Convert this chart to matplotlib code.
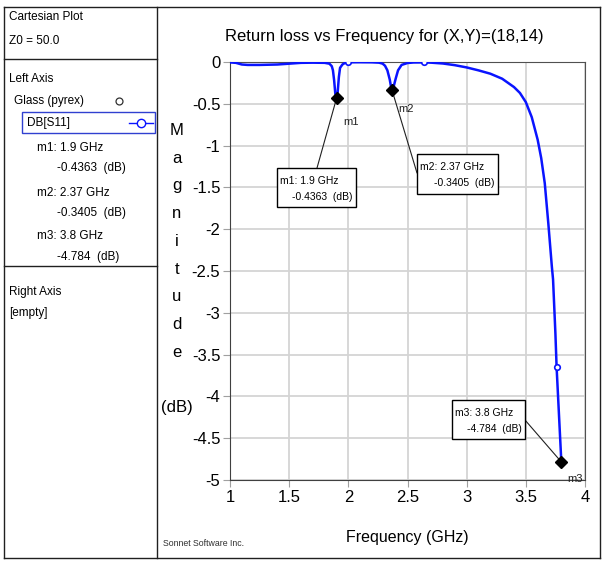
import matplotlib.pyplot as plt
from matplotlib.patches import Rectangle
from matplotlib.lines import Line2D

plt.rcParams['font.family'] = ['Liberation Sans Narrow', 'Liberation Sans', 'DejaVu Sans']

# S11 (dB) vs frequency
freq = [1.0, 1.05, 1.1, 1.15, 1.25, 1.4, 1.5, 1.6, 1.7, 1.8, 1.84, 1.86, 1.87, 1.88,
        1.89, 1.9, 1.91, 1.92, 1.93, 1.95, 1.97, 2.0, 2.1, 2.2, 2.26, 2.29, 2.31, 2.33,
        2.35, 2.36, 2.37, 2.38, 2.4, 2.42, 2.45, 2.5, 2.55, 2.64, 2.7, 2.8, 2.9, 3.0,
        3.1, 3.2, 3.3, 3.4, 3.45, 3.5, 3.55, 3.6, 3.63, 3.66, 3.69, 3.72, 3.73, 3.75,
        3.76, 3.8]
s11 = [-0.005, -0.01, -0.03, -0.035, -0.035, -0.03, -0.02, -0.01, -0.008, -0.01, -0.02,
       -0.05, -0.1, -0.22, -0.38, -0.4363, -0.36, -0.18, -0.07, -0.03, -0.012, -0.004,
       -0.003, -0.004, -0.008, -0.02, -0.045, -0.1, -0.21, -0.29, -0.3405, -0.31, -0.2,
       -0.1, -0.035, -0.012, -0.006, -0.005, -0.008, -0.018, -0.038, -0.065, -0.1, -0.14,
       -0.2, -0.3, -0.37, -0.48, -0.66, -0.93, -1.15, -1.45, -1.93, -2.45, -2.6, -3.25,
       -3.65, -4.784]

# sampled points drawn with open circles
samp_f = [2.0, 2.64, 3.76]
samp_db = [-0.003, -0.005, -3.65]

# markers
mk_names = ['m1', 'm2', 'm3']
mk_f = [1.9, 2.37, 3.8]
mk_db = [-0.4363, -0.3405, -4.784]
mk_f_txt = ['1.9', '2.37', '3.8']
mk_db_txt = ['-0.4363', '-0.3405', '-4.784']

W, H = 602, 561


def px(x, y):
    # pixel from top-left -> figure fraction
    return x / W, 1 - y / H


fig = plt.figure(figsize=(W / 100, H / 100), dpi=100)
x0, y1 = px(230, 62)
x1, y0 = px(585, 480)
ax = fig.add_axes([x0, y0, x1 - x0, y1 - y0])

ax.plot(freq, s11, color='#0a14ff', lw=1.8, zorder=3)
ax.plot(samp_f, samp_db, 'o', ms=4, mfc='white', mec='#0a14ff', mew=1.2, zorder=4)
ax.plot(mk_f, mk_db, 'D', ms=6, color='black', zorder=5)

ax.set_xlim(1, 4)
ax.set_ylim(-5, 0)
ax.set_xticks([1, 1.5, 2, 2.5, 3, 3.5, 4])
ax.set_xticklabels(['1', '1.5', '2', '2.5', '3', '3.5', '4'])
ax.set_yticks([0, -0.5, -1, -1.5, -2, -2.5, -3, -3.5, -4, -4.5, -5])
ax.set_yticklabels(['0', '-0.5', '-1', '-1.5', '-2', '-2.5', '-3', '-3.5', '-4', '-4.5', '-5'])
ax.tick_params(labelsize=12, length=5, color='#a0a0a0', pad=2)
ax.grid(True, color='#d4d4d4', lw=1.3)
ax.set_axisbelow(True)
for s in ['left', 'bottom']:
    ax.spines[s].set_color('#404040')
for s in ['top', 'right']:
    ax.spines[s].set_color('#505050')

fig.text(*px(384, 36), 'Return loss vs Frequency for (X,Y)=(18,14)', fontsize=12,
         ha='center', va='center')
ax.set_xlabel('Frequency (GHz)', fontsize=11.5, labelpad=18)

fig.text(*px(177, 269), 'M\na\ng\nn\ni\nt\nu\nd\ne\n\n(dB)', fontsize=12,
         ha='center', va='center', linespacing=2.06, multialignment='center')

# marker labels
label_off = [(7, -24), (6, -19), (6, -17)]
for n, f, d, off in zip(mk_names, mk_f, mk_db, label_off):
    ax.annotate(n, (f, d), xytext=off, textcoords='offset pixels', fontsize=8,
                ha='left', va='center', color='#202020')

# marker boxes: (left, top, right, bottom) in pixels, leader start pixel
boxes = [(277, 168, 356, 207), (417, 154, 498, 194), (452, 400, 525, 439)]
leads = [(317, 168), (417, 173), (525, 420)]
for i in range(3):
    l, t, r, b = boxes[i]
    bx, by = px(l, b)
    rect = Rectangle((bx, by), (r - l) / W, (b - t) / H, transform=fig.transFigure,
                     facecolor='white', edgecolor='black', lw=1, zorder=6)
    fig.patches.append(rect)
    fig.text(*px(l + 3, t + 13), mk_names[i] + ': ' + mk_f_txt[i] + ' GHz', fontsize=7.5,
             ha='left', va='center', zorder=7)
    fig.text(*px(r - 3, t + 29), mk_db_txt[i] + '  (dB)', fontsize=7.5,
             ha='right', va='center', zorder=7)
    ax.annotate('', xy=(mk_f[i], mk_db[i]), xytext=px(*leads[i]),
                textcoords='figure fraction', annotation_clip=False,
                arrowprops=dict(arrowstyle='-', lw=0.8, color='#202020',
                                shrinkA=0, shrinkB=0))

fig.text(*px(163, 543), 'Sonnet Software Inc.', fontsize=6.3, ha='left', va='center',
         color='#303030')

# frame and left panel
def hline(xa, xb, y, **kw):
    fig.add_artist(Line2D([xa / W, xb / W], [1 - y / H, 1 - y / H], color='#202020', lw=1, **kw))


def vline(x, ya, yb, **kw):
    fig.add_artist(Line2D([x / W, x / W], [1 - ya / H, 1 - yb / H], color='#202020', lw=1, **kw))


hline(4, 600, 7)
hline(4, 600, 558)
vline(4, 7, 558)
vline(600, 7, 558)
vline(157, 7, 558)
hline(4, 157, 59)
hline(4, 157, 266)

panel = [(9, 17, 'Cartesian Plot'), (9, 41, 'Z0 = 50.0'), (9, 79, 'Left Axis'),
         (14, 101, 'Glass (pyrex)'), (27, 123, 'DB[S11]'),
         (37, 148, 'm1: 1.9 GHz'), (57, 168, '-0.4363  (dB)'),
         (37, 193, 'm2: 2.37 GHz'), (57, 213, '-0.3405  (dB)'),
         (37, 236, 'm3: 3.8 GHz'), (57, 257, '-4.784  (dB)'),
         (9, 292, 'Right Axis'), (9, 313, '[empty]')]
for x, y, s in panel:
    fig.text(*px(x, y), s, fontsize=8.5, ha='left', va='center')

fig.add_artist(Line2D([119 / W], [1 - 101 / H], marker='o', ms=5, mfc='white',
                      mec='#303030', mew=0.9, ls='none'))
bx, by = px(22, 133)
fig.patches.append(Rectangle((bx, by), 133 / W, 21 / H, transform=fig.transFigure,
                             facecolor='none', edgecolor='#3040d0', lw=1))
fig.add_artist(Line2D([129 / W, 153 / W], [1 - 123 / H, 1 - 123 / H], color='#0a14ff',
                      lw=1, marker=None))
fig.add_artist(Line2D([141 / W], [1 - 123 / H], marker='o', ms=6, mfc='white',
                      mec='#0a14ff', mew=1, ls='none'))

plt.savefig('out.png', dpi=100)
